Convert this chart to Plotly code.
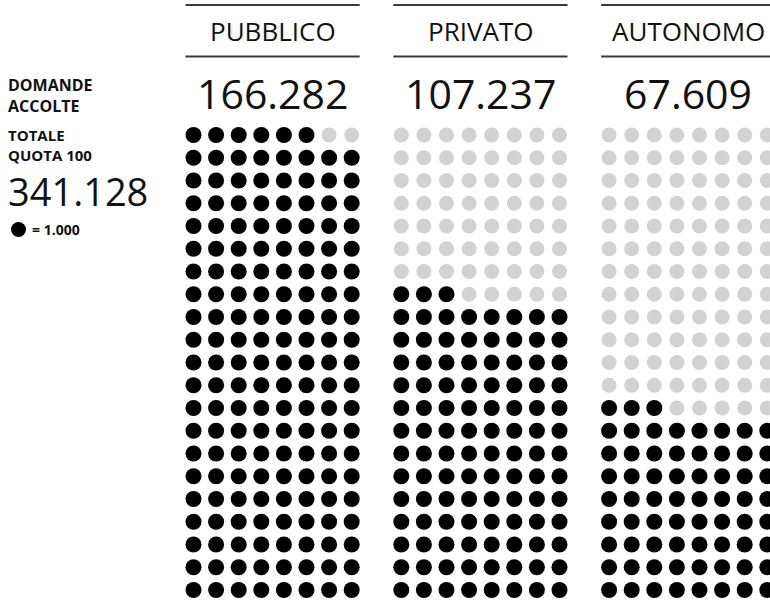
import plotly.graph_objects as go

# ---- data ----
categories = ["PUBBLICO", "PRIVATO", "AUTONOMO"]
values = [166282, 107237, 67609]
value_labels = ["166.282", "107.237", "67.609"]
total_label = "341.128"
unit = 1000
unit_label = "= 1.000"
left_title = ["DOMANDE", "ACCOLTE"]
total_title = ["TOTALE", "QUOTA 100"]
rows, cols = 21, 8

# ---- layout constants (pixels) ----
W, H = 770, 602
x0 = 193.5
col_gap = 22.6
group_gap = 207.8
y0 = 135
row_gap = 22.75
dot = 16

FONT_REG = "Open Sans"
FONT_BOLD = "Open Sans"

fig = go.Figure()
bx, by, gx, gy = [], [], [], []
for g, v in enumerate(values):
    n = int(v // unit)
    for k in range(rows * cols):
        rb = k // cols
        c = k % cols
        x = x0 + g * group_gap + c * col_gap
        y = y0 + (rows - 1 - rb) * row_gap
        if k < n:
            bx.append(x); by.append(y)
        else:
            gx.append(x); gy.append(y)

fig.add_trace(go.Scatter(x=gx, y=gy, mode="markers",
                         marker=dict(size=dot - 1, color="#d2d2d2",
                                     line=dict(width=0)),
                         hoverinfo="skip", showlegend=False))
fig.add_trace(go.Scatter(x=bx, y=by, mode="markers",
                         marker=dict(size=dot, color="#000000",
                                     line=dict(width=0)),
                         hoverinfo="skip", showlegend=False))
# legend dot
fig.add_trace(go.Scatter(x=[18.5], y=[229.5], mode="markers",
                         marker=dict(size=15, color="#000000"),
                         hoverinfo="skip", showlegend=False))

shapes = []
annotations = []
for g, (cat, lab) in enumerate(zip(categories, value_labels)):
    left = x0 + g * group_gap - dot / 2
    right = x0 + g * group_gap + (cols - 1) * col_gap + dot / 2
    cx = (left + right) / 2
    for yl in (5, 56.5):
        shapes.append(dict(type="line", xref="x", yref="y", x0=left, x1=right,
                           y0=yl, y1=yl, line=dict(color="#3a3a3a", width=2)))
    annotations.append(dict(x=cx, y=31, xref="x", yref="y", text=cat,
                            showarrow=False, xanchor="center", yanchor="middle",
                            font=dict(family=FONT_REG, size=26, color="#111")))
    annotations.append(dict(x=cx, y=93, xref="x", yref="y", text=lab,
                            showarrow=False, xanchor="center", yanchor="middle",
                            font=dict(family=FONT_REG, size=41, color="#111")))

def bold_block(lines, y, size=15):
    annotations.append(dict(x=6, y=y, xref="x", yref="y",
                            text="<br>".join("<b>" + t + "</b>" for t in lines),
                            showarrow=False, xanchor="left", yanchor="middle", align="left",
                            font=dict(family=FONT_BOLD, size=size, color="#111", weight=800)))

bold_block(left_title, 95, 16)
bold_block(total_title, 145)

annotations.append(dict(x=6, y=191, xref="x", yref="y", text=total_label,
                        showarrow=False, xanchor="left", yanchor="middle",
                        font=dict(family=FONT_REG, size=38, color="#111")))
annotations.append(dict(x=30, y=229.5, xref="x", yref="y", text="<b>" + unit_label + "</b>",
                        showarrow=False, xanchor="left", yanchor="middle",
                        font=dict(family=FONT_BOLD, size=14, color="#111", weight=800)))

fig.update_layout(
    width=W, height=H, margin=dict(l=0, r=0, t=0, b=0),
    paper_bgcolor="white", plot_bgcolor="white",
    xaxis=dict(range=[0, W], visible=False, fixedrange=True),
    yaxis=dict(range=[H, 0], visible=False, fixedrange=True),
    shapes=shapes, annotations=annotations, hovermode=False,
)
fig.write_html("out.html", config={"displayModeBar": False})
